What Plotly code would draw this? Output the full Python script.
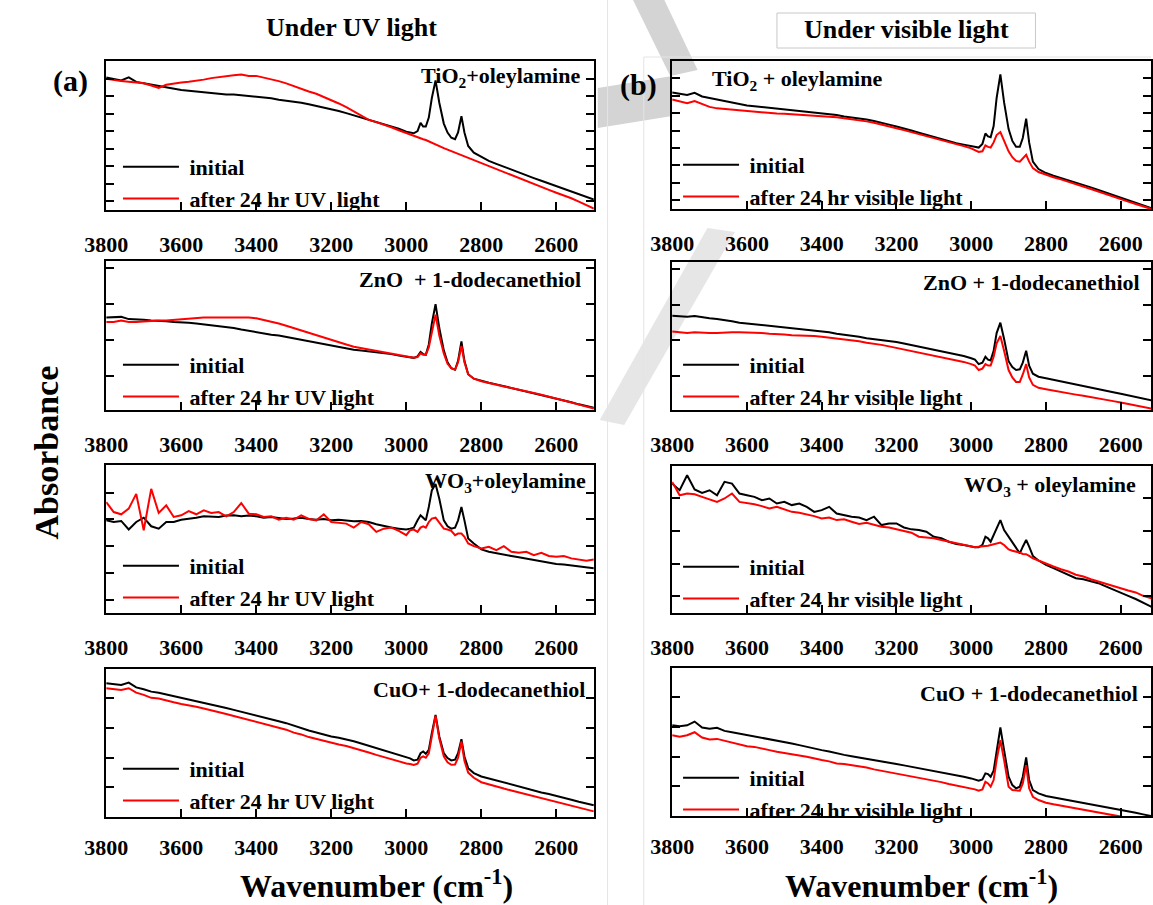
import plotly.graph_objects as go

W, H = 1153, 905

# ---------------- data (absorbance, arbitrary units, % of panel height) ----------------
WAVENUMBER = [3800, 3780, 3760, 3740, 3720, 3700, 3680, 3660, 3640, 3620, 3600, 3580, 3560, 3540, 3520,
              3500, 3480, 3460, 3440, 3420, 3400, 3380, 3360, 3340, 3320, 3300, 3280, 3260, 3240, 3220,
              3200, 3180, 3160, 3140, 3120, 3100, 3080, 3060, 3040, 3020, 3000,
              2990, 2980, 2970, 2962, 2955, 2948, 2940, 2932, 2922, 2912, 2900, 2890, 2880, 2870, 2862,
              2853, 2845, 2835, 2820,
              2800, 2780, 2760, 2740, 2720, 2700, 2680, 2660, 2640, 2620, 2600, 2580, 2560, 2540, 2520, 2500]

TICK_VALUES = [3800, 3600, 3400, 3200, 3000, 2800, 2600]

TIO2_UV_INITIAL = [89, 88, 87, 89, 86, 85, 84, 83, 82, 81.5, 80.5, 80, 79.5, 79, 78.5,
                   78, 77.5, 77.5, 77, 76, 76, 75.5, 75, 74, 73.5, 72.7, 72, 71, 70, 69,
                   68, 66.5, 65, 63.5, 62, 61, 59.5, 58, 56, 54.5, 52.5,
                   52, 51.5, 53, 58.5, 56, 56, 62, 75, 87, 72, 58, 52, 48.5, 47.5, 52,
                   63, 52, 43, 38.5,
                   35.5, 33, 31, 29, 27, 25, 23.2, 21.4, 19.6, 17.8, 16, 14.2, 12.4, 10.6, 8.8, 7]
TIO2_UV_AFTER = [88, 87, 86.5, 86, 85.5, 85, 83.5, 82, 84, 85, 85.5, 86, 86.5, 87.5, 88.5,
                 89, 89.5, 90.5, 91, 90, 90, 89, 88, 86.5, 85, 83, 81, 79.5, 78, 76,
                 74, 71.5, 69, 66, 63, 60.5, 59, 57.5, 55.5, 53.5, 51.5,
                 50.5, 49.5, 48.8, 48.2, 47.5, 47, 46, 45, 44, 43, 41.5, 40.5, 39.5, 38.5, 37.5,
                 36.5, 35.5, 34.5, 33,
                 31.3, 29.5, 27.5, 25.5, 23.5, 21, 19, 17.2, 15.4, 13.5, 11.6, 9.8, 7.9, 5.6, 3.3, 1]

TIO2_VIS_INITIAL = [78.7, 78, 77, 78.5, 76, 75, 74, 73, 71.5, 71, 70, 69.5, 69, 68.5, 68,
                    67.5, 67, 66.5, 66, 65.5, 64.7, 64, 63.5, 62.5, 62, 61.3, 60.5, 59.5, 58.5, 57,
                    55.7, 54.5, 53, 51.5, 50, 49, 47.5, 46, 44.5, 43.5, 42.5,
                    42, 41.5, 44, 51, 49, 48.5, 56, 75, 91, 72, 54, 46, 42, 42, 48,
                    61, 45, 32, 27,
                    24.3, 22.5, 21, 19.5, 18, 16.4, 14.6, 12.8, 11, 9.2, 7.4, 5.6, 3.8, 2, 0.5, -1]
TIO2_VIS_AFTER = [74, 73, 71.5, 73, 71, 69, 68, 67.5, 67, 66.5, 66, 65.5, 65.2, 64.8, 64.5,
                  64.3, 64, 63.8, 63.5, 63.2, 63, 62.5, 62, 61.3, 60.7, 60, 59.2, 58.3, 57.2, 56,
                  54.6, 53.3, 52, 50.5, 49.2, 48, 46.7, 45.3, 44, 42.5, 41,
                  40, 38.5, 39, 43, 42, 41.5, 45, 50, 52, 46, 39, 35, 32.5, 32, 34,
                  36.6, 32, 27.6, 25,
                  23, 21.5, 20, 18.5, 16.8, 15.3, 13.5, 11.8, 10, 8.3, 6.7, 5, 3.4, 1.8, 0.2, -1.5]

ZNO_UV_INITIAL = [62, 62, 62.5, 61, 60.5, 60.5, 60, 60, 59.5, 59, 59, 58.5, 58, 57.5, 56.5,
                  56, 55.5, 55, 54, 53, 52.5, 51.5, 50.5, 50, 49, 48.5, 47.5, 46.5, 45, 44,
                  43, 42, 41.5, 40.5, 40, 39.5, 39, 38, 37.5, 36.5, 36,
                  35.5, 35, 36, 39, 37.5, 37, 44, 58, 71, 55, 40, 32, 28, 27, 33,
                  46, 33, 24, 21,
                  19.5, 18.3, 17.2, 16, 15, 14, 12.8, 11.6, 10.4, 9.2, 8, 6.6, 5.2, 3.8, 2.5, 1.5]
ZNO_UV_AFTER = [59, 59, 60, 59, 59, 59.5, 59.5, 60, 60, 60.5, 60.5, 61, 61.5, 62, 62,
                62, 62.5, 62.5, 62, 62, 61.5, 60.5, 59.5, 58, 56.5, 55, 53.5, 52, 50.5, 49,
                47, 45.5, 44, 42.5, 41.5, 40.5, 39.5, 38.5, 38, 37, 36,
                35.5, 35, 35.5, 38, 37, 37, 42, 53, 64, 50, 38, 31, 28, 27, 32,
                43, 32, 24, 21,
                19.3, 18, 17, 15.8, 14.8, 13.8, 12.6, 11.4, 10.2, 9, 7.8, 6.4, 5, 3.6, 2.2, 1]

ZNO_VIS_INITIAL = [63.7, 63.5, 63, 63.5, 62.5, 62, 61.5, 61, 60, 59, 58.5, 58, 57.5, 57, 56.5,
                   56, 55.5, 55, 54.5, 53.5, 53, 52.5, 51.5, 51, 50, 49.5, 48.5, 48, 47, 46.5,
                   46, 45, 44, 43, 42, 41, 40, 39, 37.5, 36.5, 35,
                   34, 31, 32, 36, 34, 33.5, 40, 52, 59, 48, 33, 29, 27, 27.5, 32,
                   40, 30, 24.5, 22.5,
                   21.5, 20.4, 19.3, 18.2, 17.1, 16, 15, 14, 13, 12, 11, 10, 9, 7.8, 6.7, 5.5]
ZNO_VIS_AFTER = [53, 52.5, 52, 52.5, 52, 52, 52, 52.5, 52.5, 52.5, 52.5, 52, 52, 51.5, 51.5,
                 51, 50.5, 50.5, 50, 50, 49.5, 49, 48.5, 48, 47, 46.5, 45.5, 45, 44, 43,
                 42, 41, 40, 39, 38, 37, 36, 35, 33.5, 32.5, 31,
                 30, 27, 28, 31, 30, 30, 36, 45, 50, 40, 27, 22, 19, 19, 24,
                 31, 22, 17, 15,
                 14, 13, 12, 11.2, 10.4, 9.6, 8.8, 8, 7, 6, 5, 4, 3, 2, 1, 0]

WO3_UV_INITIAL = [62.6, 61.5, 62.2, 56.4, 61.5, 64.4, 58.6, 57, 61.5, 61.5, 63, 63.5, 64.4, 65.3, 64.9,
                  64.9, 65.8, 66, 65.3, 65.8, 65.3, 64.4, 64.9, 64.2, 63.5, 63.8, 64.4, 63.5, 63, 63.5,
                  62.6, 63, 62.6, 62, 62.2, 61.5, 60, 58.6, 57.7, 57, 56.4,
                  57, 57.7, 62.6, 66, 64.4, 62.6, 71.6, 82.8, 87.2, 77.2, 62.6, 58.6, 57, 57.7, 62.6,
                  71.6, 62.6, 50.3, 47,
                  43, 41.4, 40.3, 39.1, 38.5, 37.6, 36.7, 35.3, 34.7, 34, 33.1, 32.7, 32.2, 31.3, 30.9, 30.2]
WO3_UV_AFTER = [74.9, 68.2, 66.7, 70.5, 80.5, 55.9, 83.9, 67.6, 72.7, 64.9, 66, 68.9, 66.7, 69.4, 67.6,
                68.2, 65.3, 68.2, 74.3, 67.1, 66.7, 64.9, 65.3, 63.1, 64.4, 63.1, 66, 63.5, 62.6, 66.7,
                61.5, 60.9, 60.4, 57.7, 61.5, 60, 54.8, 57, 57.7, 55.5, 52.6,
                55.9, 56.4, 54.8, 57.7, 58.6, 57.7, 61.5, 63.8, 64.4, 60.9, 57, 56.4, 55.5, 52.6, 53.7,
                53.7, 51.5, 47, 45.2,
                43.6, 44.7, 42.5, 45.2, 41.4, 40.7, 41.4, 39.1, 40.7, 38.5, 38, 38.5, 36.9, 36.2, 35.3, 36.2]

WO3_VIS_INITIAL = [88, 83.5, 93.7, 84, 81.7, 83.5, 80.1, 89.2, 88, 81.3, 80.1, 79, 76.7, 77.9, 74.5,
                   75.6, 73.4, 74.5, 72.2, 68.8, 70, 72.2, 67.7, 66.6, 65.5, 65, 63.2, 65.5, 59.8, 60.9,
                   60.9, 58.2, 56.9, 56.4, 55.3, 51.9, 50.8, 48.5, 47, 46.3, 45.1,
                   44.7, 44.7, 46.3, 51.9, 50.8, 48.5, 53, 57.6, 63.2, 56.4, 51.9, 47.4, 44, 40.6, 45.1,
                   49.7, 45.1, 38.8, 35.7,
                   32.7, 30.5, 28.2, 26, 23.7, 23, 21.4, 20.3, 18.1, 15.8, 13.5, 11.7, 9.5, 6.8, 4.5, 2.3]
WO3_VIS_AFTER = [89.2, 80.1, 81.3, 80.8, 79, 77.2, 75.6, 77.9, 81.3, 75.6, 74.9, 74, 72.7, 71.1, 72.2,
                 70.4, 68.8, 68.2, 67.3, 65.9, 64.3, 65, 63.2, 63.7, 62.1, 60.5, 61.4, 59.8, 58.7, 58.2,
                 56.9, 56, 54.6, 51.9, 51.5, 50.8, 49.7, 48.5, 47.4, 46.3, 45.1,
                 44.7, 45.1, 45.1, 45.6, 45.8, 46.3, 47, 47.4, 47.9, 46.3, 43.3, 42.4, 41.8, 41.1, 40.2,
                 40, 38.8, 37.2, 35.7,
                 33.4, 31.6, 29.8, 28.2, 26, 24.8, 23, 21.4, 19.9, 18.5, 16.9, 15.3, 14, 11.7, 10.2, 8.6]

CUO_UV_INITIAL = [90.3, 89.7, 89.2, 90.8, 87.6, 86.3, 84.7, 84, 82.9, 81.3, 80.2, 79.6, 78.4, 77.3, 76.2,
                  75.1, 73.7, 72.4, 71.2, 69.7, 68.3, 67.4, 66.1, 64.7, 63.4, 61.6, 60.2, 58.4, 57.1, 55.7,
                  54.4, 53.5, 52.6, 51.2, 49.7, 48.1, 46.5, 44.9, 43.6, 42, 40.4,
                  39.6, 38.2, 38.7, 43.1, 44.3, 42.7, 45.4, 56.6, 69, 54.4, 43.1, 39.8, 38.2, 38.7, 43.1,
                  52.6, 40.9, 33, 29.7,
                  27.4, 26, 24.7, 23.4, 22, 20.7, 19.3, 18, 16.6, 15.5, 14.4, 13, 11.7, 10.3, 9, 7.9]
CUO_UV_AFTER = [87, 86.3, 85.8, 87, 84, 82.5, 80.5, 80, 79, 77.5, 76.4, 75.7, 74.5, 73.3, 72.2,
                71, 69.6, 68.3, 67, 65.4, 64, 63, 61.7, 60.2, 59, 57, 55.8, 54, 52.7, 51.3,
                50, 49, 48, 46.7, 45.2, 43.6, 42, 40.5, 39.2, 37.6, 36.2,
                35.8, 35.1, 36, 40, 41, 40, 43, 55, 68.3, 53, 41, 37, 35.3, 35.5, 40,
                51, 38, 30, 26.5,
                23.5, 21.9, 20.5, 19.2, 17.9, 16.6, 15.4, 14.1, 12.8, 11.5, 10.2, 8.9, 7.6, 6.3, 5, 3.8]

CUO_VIS_INITIAL = [61.3, 60.7, 61.3, 63.8, 59.8, 58.9, 59.6, 57.5, 56.6, 55.7, 54.6, 53.9, 53, 52.1, 51,
                   50.1, 49, 47.9, 46.7, 45.4, 44.5, 43.6, 42.2, 41.3, 40.4, 39.6, 38.7, 37.5, 36.9, 36,
                   35.1, 34.2, 33.3, 32.4, 31.5, 30.6, 29.4, 28.3, 27.4, 26.5, 25.4,
                   24.7, 23.8, 24.7, 28.8, 28.3, 26.5, 30.6, 44.5, 59.8, 44.5, 26.5, 20.9, 18.7, 19.8, 26.5,
                   39.6, 24.3, 17.5, 15.3,
                   13.5, 12.6, 11.7, 10.8, 9.7, 8.5, 7.6, 6.7, 5.8, 4.9, 4, 3.1, 2.2, 1.1, 0, -0.9]
CUO_VIS_AFTER = [54.6, 53.5, 54.6, 56.6, 53, 51.7, 52.1, 50.8, 49.9, 48.5, 47.2, 46.7, 45.8, 44.5, 43.4,
                 42.7, 41.8, 40.9, 40, 38.7, 37.8, 36.9, 35.5, 35.1, 34.4, 33.7, 32.8, 31.5, 30.6, 29.7,
                 28.8, 27.9, 27, 26.1, 25.2, 24.3, 22.9, 21.6, 20.7, 19.8, 18.7,
                 18, 17.1, 18, 23.1, 22, 19.8, 24.3, 37.8, 51.2, 37.8, 19.8, 17.5, 17.1, 17.1, 22,
                 34.4, 18.7, 13, 10.8,
                 9, 7.9, 7, 6.1, 5.2, 4.5, 3.6, 2.7, 1.8, 0.7, -0.4, -1.6, -2.7, -3.8, -4.9, -6]

PANEL_TITLES = ["TiO<sub>2</sub>+oleylamine", "TiO<sub>2</sub> + oleylamine",
                "ZnO  + 1-dodecanethiol", "ZnO + 1-dodecanethiol",
                "WO<sub>3</sub>+oleylamine", "WO<sub>3</sub> + oleylamine",
                "CuO+ 1-dodecanethiol", "CuO + 1-dodecanethiol"]
SERIES_NAMES = ["initial", "after 24 hr UV  light", "initial", "after 24 hr visible light",
                "initial", "after 24 hr UV light", "initial", "after 24 hr visible light",
                "initial", "after 24 hr UV light", "initial", "after 24 hr visible light",
                "initial", "after 24 hr UV light", "initial", "after 24 hr visible light"]
SERIES = [TIO2_UV_INITIAL, TIO2_UV_AFTER, TIO2_VIS_INITIAL, TIO2_VIS_AFTER,
          ZNO_UV_INITIAL, ZNO_UV_AFTER, ZNO_VIS_INITIAL, ZNO_VIS_AFTER,
          WO3_UV_INITIAL, WO3_UV_AFTER, WO3_VIS_INITIAL, WO3_VIS_AFTER,
          CUO_UV_INITIAL, CUO_UV_AFTER, CUO_VIS_INITIAL, CUO_VIS_AFTER]

# ---------------- layout helpers (pixels -> paper) ----------------
def px(x):
    return x / W


def py(y):
    return 1 - y / H


FONT = "Liberation Serif, Times New Roman, serif"
COLS = [(86, 584, [3800, 2500]), (664, 1153, [3800, 2519])]
ROWS_LEFT = [(61, 210), (261, 410), (465, 613), (669, 817)]
ROWS_RIGHT = [(61, 209), (262, 410), (466, 613), (668, 816)]
STANDOFF = [14, 14, 14, 10]
YTICKS = [(6, 11.75), (6, 11.75), (23, 24), (23, 24), (9, 18.1), (11.3, 22.2), (20.2, 20), (20.2, 20)]
TITLE_POS = [(572, 77, "right"), (703, 80, "left"), (573, 279, "right"), (1144, 283, "right"),
             (578, 482, "right"), (1140, 486, "right"), (577, 689, "right"), (1142, 693, "right")]
LEGEND_POS = [(98, 146), (670, 144), (98, 344), (670, 344), (98, 545), (670, 546), (98, 748), (670, 757)]

fig = go.Figure()

for p in range(8):
    r, c = p // 2, p % 2
    i = p + 1
    x0, x1, xr = COLS[c]
    top, bot = (ROWS_LEFT if c == 0 else ROWS_RIGHT)[r]
    sfx = "" if i == 1 else str(i)
    leg = "legend" if i == 1 else f"legend{i}"
    for k, color in enumerate(["#000000", "#ff0000"]):
        fig.add_trace(go.Scatter(
            x=WAVENUMBER, y=SERIES[2 * p + k], mode="lines",
            name="\u00a0" + SERIES_NAMES[2 * p + k],
            line=dict(color=color, width=2), xaxis=f"x{sfx}", yaxis=f"y{sfx}", legend=leg,
            showlegend=True, hoverinfo="skip"))
    t0, dt = YTICKS[p]
    fig.layout[f"xaxis{sfx}"] = dict(
        domain=[px(x0), px(x1)], range=xr, anchor=f"y{sfx}",
        tickvals=TICK_VALUES, ticktext=[str(v) for v in TICK_VALUES],
        ticks="inside", ticklen=8, tickwidth=1.5, tickcolor="black",
        showline=True, linecolor="black", linewidth=2, mirror=True,
        showgrid=False, zeroline=False, ticklabelstandoff=STANDOFF[r],
        tickfont=dict(family=FONT, size=22, color="black", weight="bold"))
    fig.layout[f"yaxis{sfx}"] = dict(
        domain=[py(bot), py(top)], range=[0, 100], anchor=f"x{sfx}",
        tick0=t0, dtick=dt, ticks="inside", ticklen=8, tickwidth=1.5, tickcolor="black",
        showticklabels=False, showline=True, linecolor="black", linewidth=2, mirror="ticks",
        showgrid=False, zeroline=False)
    lx, ly = LEGEND_POS[p]
    fig.layout[leg] = dict(
        x=px(lx), y=py(ly), xanchor="left", yanchor="top", bgcolor="rgba(0,0,0,0)",
        font=dict(family=FONT, size=22, color="black", weight="bold"),
        itemwidth=56, tracegroupgap=0, traceorder="normal")
    tx, ty, anc = TITLE_POS[p]
    fig.add_annotation(x=px(tx), y=py(ty), xref="paper", yref="paper", text=PANEL_TITLES[p],
                       showarrow=False, xanchor=anc, yanchor="middle",
                       font=dict(family=FONT, size=22, color="black", weight="bold"))

# headers and axis titles (x, y, text, size, angle, yanchor)
ann = [
    (337, 28, "Under UV light", 26, 0, "middle"),
    (903, 29, "Under visible light", 26, 0, "middle"),
    (50, 81, "(a)", 30, 0, "middle"),
    (630, 85, "(b)", 30, 0, "middle"),
    (24, 453, "Absorbance", 34, -90, "middle"),
    (362, 905, "Wavenumber (cm<sup>-1</sup>)", 32, 0, "bottom"),
    (919, 905, "Wavenumber (cm<sup>-1</sup>)", 32, 0, "bottom"),
]
for x, y, t, s, a, ya in ann:
    fig.add_annotation(x=px(x), y=py(y), xref="paper", yref="paper", text=t, showarrow=False,
                       textangle=a, xanchor="center", yanchor=ya, borderpad=0,
                       font=dict(family=FONT, size=s, color="black", weight="bold"))

# decorative background elements
shapes = [
    dict(type="path", path=f"M {px(624)},{py(0)} L {px(656)},{py(0)} L {px(690)},{py(70)} L {px(662)},{py(76)} Z",
         fillcolor="#d4d4d4", line=dict(width=0)),
    dict(type="path", path=f"M {px(588)},{py(88)} L {px(664)},{py(76)} L {px(664)},{py(116)} L {px(588)},{py(128)} Z",
         fillcolor="#d4d4d4", line=dict(width=0)),
    dict(type="path", path=f"M {px(700)},{py(228)} L {px(728)},{py(232)} L {px(615)},{py(425)} L {px(590)},{py(420)} Z",
         fillcolor="#e6e6e6", line=dict(width=0)),
    dict(type="line", x0=px(598), x1=px(598), y0=py(0), y1=py(905), line=dict(color="#e4e4e4", width=1)),
    dict(type="line", x0=px(635), x1=px(635), y0=py(57), y1=py(905), line=dict(color="#e4e4e4", width=1)),
    dict(type="line", x0=px(635), x1=px(1153), y0=py(57), y1=py(57), line=dict(color="#e4e4e4", width=1)),
    dict(type="rect", x0=px(771), x1=px(1035), y0=py(48), y1=py(13), line=dict(color="#c8c8c8", width=1),
         fillcolor="rgba(0,0,0,0)"),
]
for s in shapes:
    s.update(xref="paper", yref="paper", layer="below")
    fig.add_shape(**s)

fig.update_layout(width=W, height=H, margin=dict(l=0, r=0, t=0, b=0),
                  paper_bgcolor="white", plot_bgcolor="white", showlegend=True)

fig.write_html("out.html", config={"displayModeBar": False},
               post_script="document.body.style.margin='0';document.body.style.overflow='hidden';")
